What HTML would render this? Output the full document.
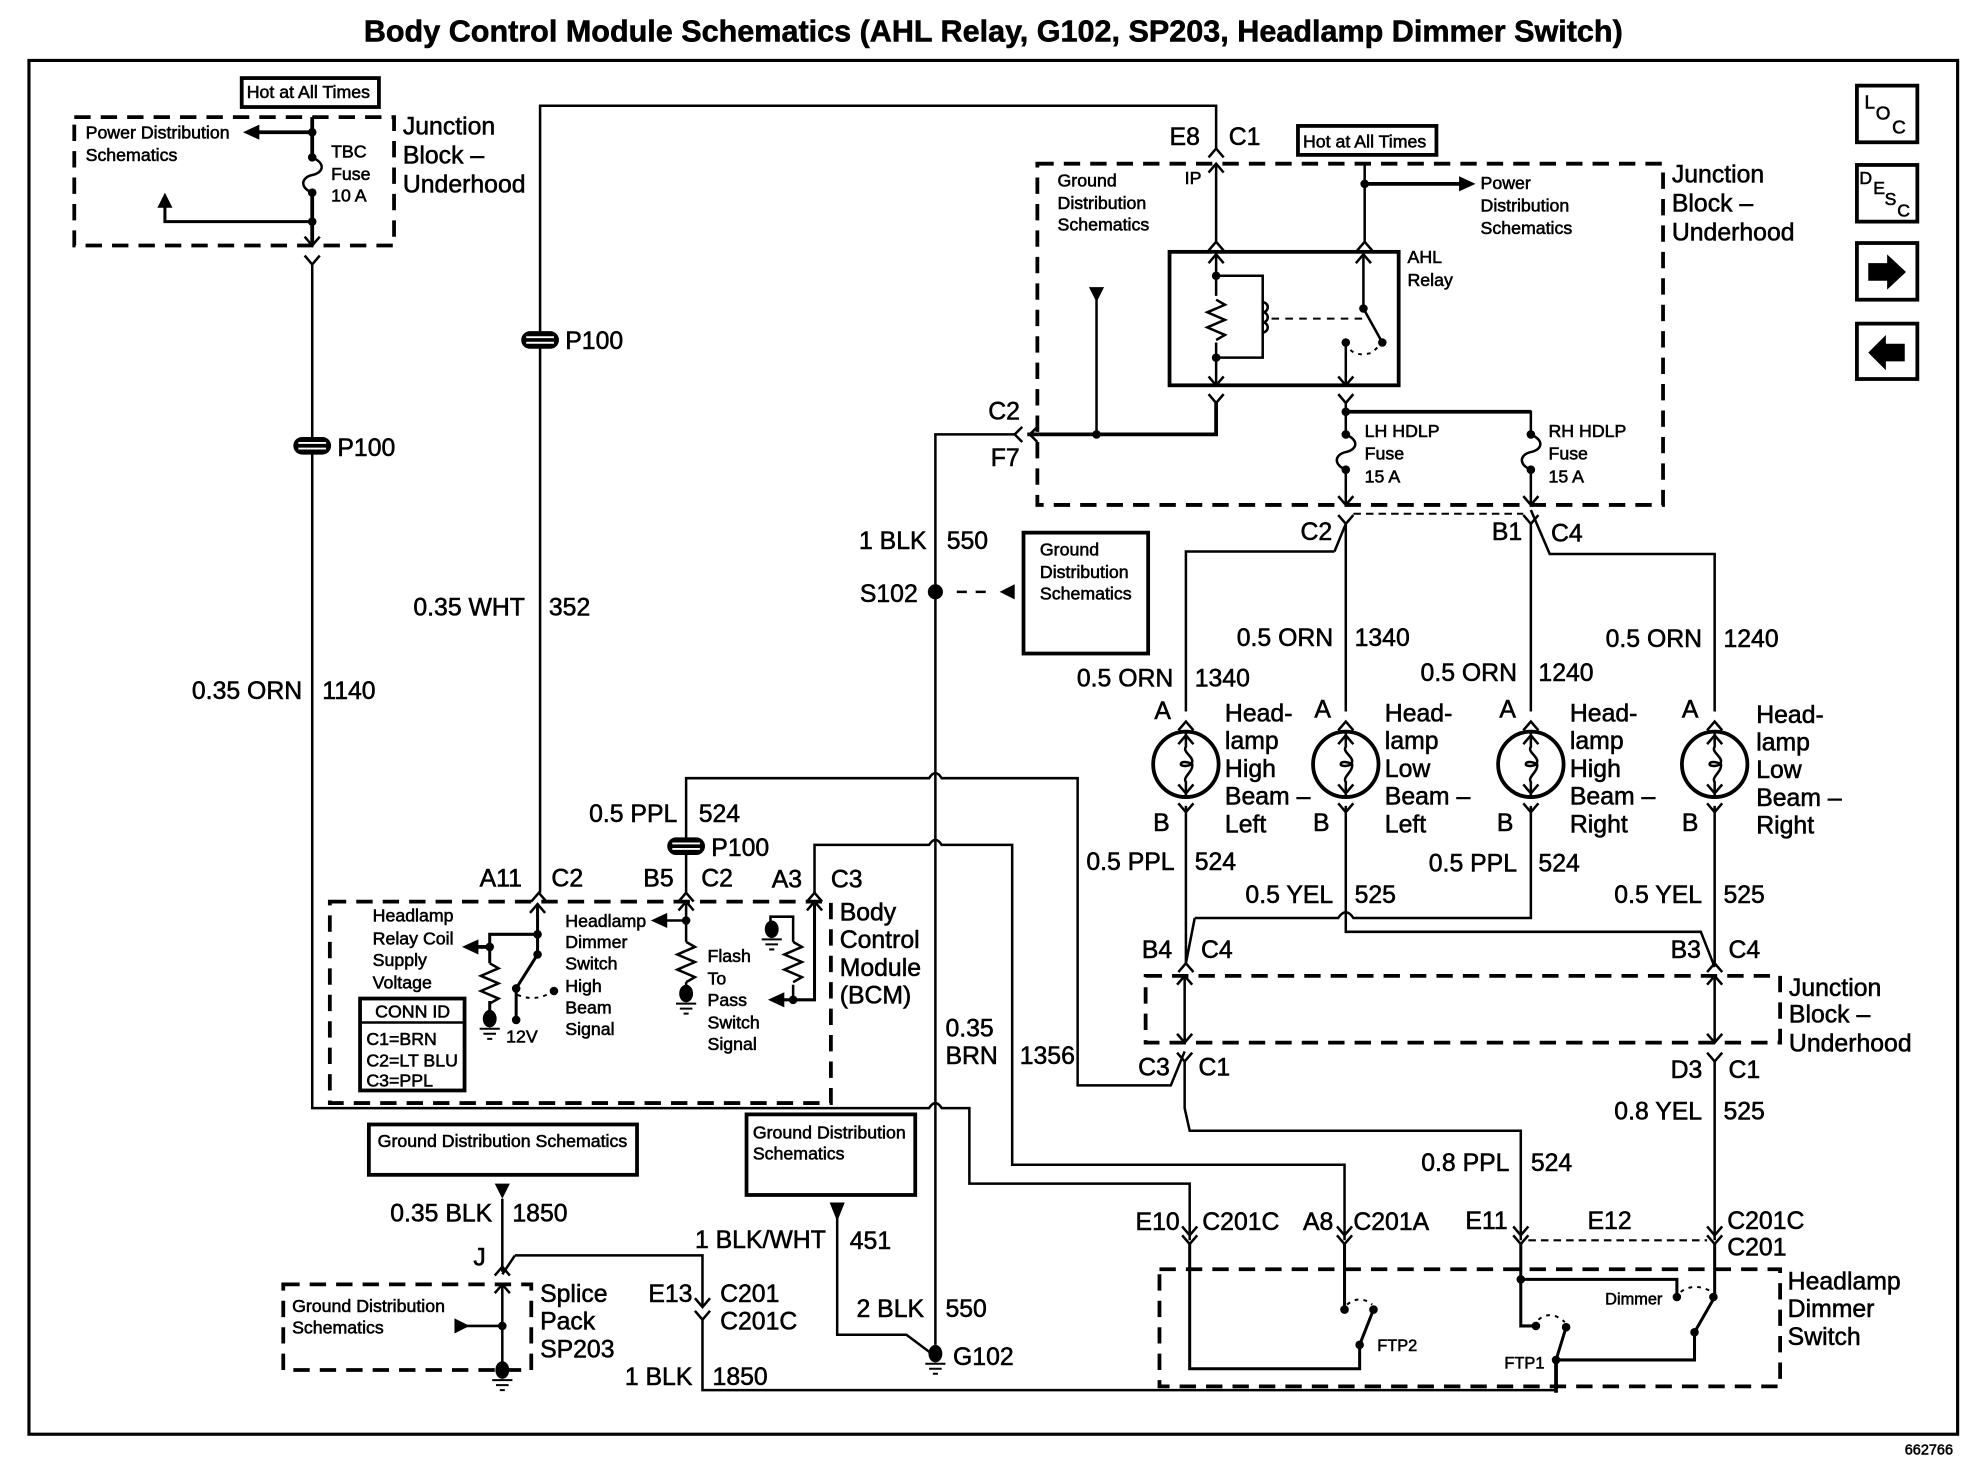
<!DOCTYPE html>
<html><head><meta charset="utf-8"><style>
html,body{margin:0;padding:0;background:#fff}
svg{display:block}
text{font-family:"Liberation Sans",sans-serif;fill:#000;stroke:#000;stroke-width:.45}
.l{font-size:19.7px}
.s{font-size:14.1px}
.e{text-anchor:end}
path,line,polyline,rect,ellipse,circle{fill:none;stroke:#000;stroke-width:2}
.h{stroke-width:3}
.dash{stroke-width:3;stroke-dasharray:13 8}
.dot{stroke-width:1.6;stroke-dasharray:3 4}
.f{fill:#000;stroke:none}
</style></head><body>
<svg xmlns="http://www.w3.org/2000/svg" width="1974" height="1472" viewBox="0 0 1568 1169" preserveAspectRatio="none">
<defs>
<path id="u" d="M-6 7L0 0L6 7"/>
<path id="v" d="M-6 -7L0 0L6 -7"/>
<circle id="d" r="3.4" class="f"/>
<g id="g"><ellipse cy="-3" rx="5.5" ry="7" class="f"/><path d="M-8 5H8M-5 9H5M-2 13H2" style="stroke-width:1.6"/></g>
<g id="sp"><rect x="-15" y="-7" width="30" height="14" rx="7" class="f"/><path d="M-11 -2.2H11M-11 2.2H11" style="stroke:#fff;stroke-width:1.5"/></g>
<path id="fu" d="M0 0C11 5 9 12 0 14C-9 16 -10 24 0 28"/>
<path id="rs" d="M0 0L7 4L-7 10L7 16L-7 22L7 28L0 32"/>
<g id="lamp"><circle r="26" style="stroke-width:3"/><path d="M0 -26V-14C-3 -10 6 -6 5 -2C5 2 -4 2 -4 0C-4 -3 2 -2 5 0C6 6 -3 10 0 14V26"/><use href="#u" y="-23"/><use href="#v" y="23"/></g>
</defs>
<rect width="1568" height="1169" style="fill:#fff;stroke:none"/>
<text x="289" y="33" font-size="24" font-weight="bold" textLength="1000" lengthAdjust="spacingAndGlyphs">Body Control Module Schematics (AHL Relay, G102, SP203, Headlamp Dimmer Switch)</text>
<rect x="23" y="48" width="1532" height="1091" style="stroke-width:2.5"/>
<text x="1513" y="1155" font-size="11.5">662766</text>

<!-- top-left junction -->
<rect x="192" y="62" width="109" height="23" class="h"/>
<text x="196" y="78" class="s">Hot at All Times</text>
<rect x="59" y="93" width="254" height="102" class="dash"/>
<text x="68" y="110" class="s">Power Distribution</text>
<text x="68" y="128" class="s">Schematics</text>
<path d="M248 93V125M248 153V195" class="h"/>
<use href="#fu" x="248" y="125"/>
<use href="#d" x="248" y="105"/><use href="#d" x="248" y="125"/><use href="#d" x="248" y="153"/><use href="#d" x="248" y="176"/>
<path d="M205 105H248" class="h"/><path d="M193 105L206 99V111Z" class="f"/>
<path d="M131 160V176H248" style="stroke-width:2.4"/><path d="M131 153L125 165H137Z" class="f"/>
<use href="#v" x="248" y="195"/><use href="#v" x="248" y="210"/>
<text x="263" y="125" class="s">TBC</text><text x="263" y="143" class="s">Fuse</text><text x="263" y="160" class="s">10 A</text>
<text x="320" y="107" class="l">Junction</text><text x="320" y="130" class="l">Block –</text><text x="320" y="153" class="l">Underhood</text>

<!-- main wire left -->
<path d="M248 210V880H738Q743 872 748 880H770V940H945V985"/>
<use href="#sp" x="248" y="354"/><text x="268" y="362" class="l">P100</text>
<text x="240" y="555" class="l e">0.35 ORN</text><text x="256" y="555" class="l">1140</text>

<path d="M429 709V84H966V118"/>
<use href="#sp" x="429" y="270"/><text x="449" y="277" class="l">P100</text>
<text x="417" y="489" class="l e">0.35 WHT</text><text x="436" y="489" class="l">352</text>

<!-- top right junction -->
<text x="929" y="115" class="l">E8</text><text x="976" y="115" class="l">C1</text>
<use href="#u" x="966" y="118"/>
<rect x="1031" y="100" width="110" height="23" class="h"/>
<text x="1035" y="117" class="s">Hot at All Times</text>
<rect x="824" y="130" width="497" height="271" class="dash"/>
<text x="840" y="148" class="s">Ground</text><text x="840" y="166" class="s">Distribution</text><text x="840" y="183" class="s">Schematics</text>
<text x="941" y="146" class="s">IP</text>
<use href="#u" x="966" y="130"/><path d="M966 130V192"/><use href="#u" x="966" y="192"/>
<path d="M1084 130V192" /><use href="#u" x="1084" y="192"/>
<use href="#d" x="1084" y="146"/><path d="M1084 146H1160" class="h"/><path d="M1172 146L1159 140V152Z" class="f"/>
<text x="1176" y="150" class="s">Power</text><text x="1176" y="168" class="s">Distribution</text><text x="1176" y="186" class="s">Schematics</text>
<rect x="929" y="200" width="182" height="106" class="h"/>
<text x="1118" y="209" class="s">AHL</text><text x="1118" y="227" class="s">Relay</text>
<path d="M966 202V235M966 272V306"/><use href="#rs" x="966" y="238"/>
<use href="#u" x="966" y="202"/><use href="#v" x="966" y="306"/>
<use href="#d" x="966" y="219"/><use href="#d" x="966" y="284"/>
<path d="M966 219H1003V284H966" /><path d="M1003 240a4 4 0 0 1 0 8a4 4 0 0 1 0 8a4 4 0 0 1 0 8" />
<path d="M1010 253H1083" class="dot" style="stroke-dasharray:6 5"/>
<path d="M1083 202V245L1098 272"/><use href="#u" x="1083" y="202"/>
<use href="#d" x="1083" y="245"/><use href="#d" x="1098" y="272"/><use href="#d" x="1069" y="272"/>
<path d="M1069 272Q1074 285 1090 280L1098 272" class="dot"/>
<path d="M1069 272V306"/><use href="#v" x="1069" y="306"/>
<use href="#v" x="966" y="320"/><use href="#v" x="1069" y="320"/>
<path d="M966 320V345H816" class="h"/>
<path d="M871 232V345"/><path d="M871 240L865 228H877Z" class="f"/><use href="#d" x="871" y="345"/>
<path d="M824 339L818 345L824 351M812 339L806 345L812 351"/>
<text x="785" y="333" class="l">C2</text><text x="787" y="370" class="l">F7</text>
<path d="M806 345H743V1068"/>
<path d="M1069 320V345M1069 373V401M1069 327H1216V345M1216 373V401" />
<path d="M1069 327H1216" class="h"/>
<use href="#d" x="1069" y="327"/><use href="#d" x="1069" y="345"/><use href="#d" x="1069" y="373"/><use href="#d" x="1216" y="345"/><use href="#d" x="1216" y="373"/>
<use href="#fu" x="1069" y="345"/><use href="#fu" x="1216" y="345"/>
<use href="#v" x="1069" y="401"/><use href="#v" x="1216" y="401"/><use href="#v" x="1069" y="416"/><use href="#v" x="1216" y="416"/>
<text x="1084" y="347" class="s">LH HDLP</text><text x="1084" y="365" class="s">Fuse</text><text x="1084" y="383" class="s">15 A</text>
<text x="1230" y="347" class="s">RH HDLP</text><text x="1230" y="365" class="s">Fuse</text><text x="1230" y="383" class="s">15 A</text>
<text x="1328" y="145" class="l">Junction</text><text x="1328" y="168" class="l">Block –</text><text x="1328" y="191" class="l">Underhood</text>
<path d="M1075 408H1210" class="dot" style="stroke-dasharray:6 4"/>

<!-- buttons -->
<rect x="1475" y="68" width="48" height="45" class="h"/>
<text x="1481" y="86" font-size="15">L</text><text x="1490" y="95" font-size="15">O</text><text x="1503" y="106" font-size="15">C</text>
<rect x="1475" y="131" width="48" height="45" class="h"/>
<text x="1477" y="146" font-size="14">D</text><text x="1488" y="154" font-size="14">E</text><text x="1497" y="163" font-size="14">S</text><text x="1507" y="172" font-size="14">C</text>
<rect x="1475" y="193" width="48" height="45" class="h"/><path d="M1484 209H1499V202L1514 216L1499 230V223H1484Z" class="f"/>
<rect x="1475" y="257" width="48" height="44" class="h"/><path d="M1513 273H1498V266L1484 280L1498 294V287H1513Z" class="f"/>

<!-- branches to lamps -->
<path d="M1069 416V565M1060 438H942V565M1069 416L1060 438"/>
<path d="M1216 416V565M1216 405L1231 440H1362V565"/>
<text x="1033" y="429" class="l">C2</text><text x="1185" y="429" class="l">B1</text><text x="1232" y="430" class="l">C4</text>
<text x="1059" y="513" class="l e">0.5 ORN</text><text x="1076" y="513" class="l">1340</text>
<text x="932" y="545" class="l e">0.5 ORN</text><text x="949" y="545" class="l">1340</text>
<text x="1205" y="541" class="l e">0.5 ORN</text><text x="1222" y="541" class="l">1240</text>
<text x="1352" y="514" class="l e">0.5 ORN</text><text x="1369" y="514" class="l">1240</text>

<use href="#lamp" x="942" y="607"/><use href="#lamp" x="1069" y="607"/><use href="#lamp" x="1216" y="607"/><use href="#lamp" x="1362" y="607"/>
<use href="#u" x="942" y="573"/><use href="#u" x="1069" y="573"/><use href="#u" x="1216" y="573"/><use href="#u" x="1362" y="573"/>
<use href="#v" x="942" y="645"/><use href="#v" x="1069" y="645"/><use href="#v" x="1216" y="645"/><use href="#v" x="1362" y="645"/>
<text x="917" y="571" class="l">A</text><text x="1044" y="570" class="l">A</text><text x="1191" y="570" class="l">A</text><text x="1336" y="570" class="l">A</text>
<text x="916" y="660" class="l">B</text><text x="1043" y="660" class="l">B</text><text x="1189" y="660" class="l">B</text><text x="1336" y="660" class="l">B</text>
<text x="973" y="573" class="l">Head-</text><text x="973" y="595" class="l">lamp</text><text x="973" y="617" class="l">High</text><text x="973" y="639" class="l">Beam –</text><text x="973" y="661" class="l">Left</text>
<text x="1100" y="573" class="l">Head-</text><text x="1100" y="595" class="l">lamp</text><text x="1100" y="617" class="l">Low</text><text x="1100" y="639" class="l">Beam –</text><text x="1100" y="661" class="l">Left</text>
<text x="1247" y="573" class="l">Head-</text><text x="1247" y="595" class="l">lamp</text><text x="1247" y="617" class="l">High</text><text x="1247" y="639" class="l">Beam –</text><text x="1247" y="661" class="l">Right</text>
<text x="1395" y="574" class="l">Head-</text><text x="1395" y="596" class="l">lamp</text><text x="1395" y="618" class="l">Low</text><text x="1395" y="640" class="l">Beam –</text><text x="1395" y="662" class="l">Right</text>

<path d="M942 640V765M949 729L942 765M949 729H1063Q1069 720 1075 729H1216V640"/>
<path d="M1069 640V740H1351L1362 768M1362 640V765"/>
<text x="933" y="691" class="l e">0.5 PPL</text><text x="949" y="691" class="l">524</text>
<text x="1059" y="717" class="l e">0.5 YEL</text><text x="1076" y="717" class="l">525</text>
<text x="1205" y="692" class="l e">0.5 PPL</text><text x="1222" y="692" class="l">524</text>
<text x="1352" y="717" class="l e">0.5 YEL</text><text x="1369" y="717" class="l">525</text>
<text x="907" y="761" class="l">B4</text><text x="954" y="761" class="l">C4</text><text x="1327" y="761" class="l">B3</text><text x="1373" y="761" class="l">C4</text>
<use href="#u" x="942" y="765"/><use href="#u" x="1362" y="765"/>
<rect x="910" y="775" width="504" height="53" class="dash"/>
<path d="M941 775V828M1362 775V828"/>
<use href="#u" x="941" y="775"/><use href="#v" x="941" y="828"/><use href="#u" x="1362" y="775"/><use href="#v" x="1362" y="828"/>
<use href="#v" x="941" y="843"/><use href="#v" x="1362" y="843"/>
<text x="1421" y="791" class="l">Junction</text><text x="1421" y="812" class="l">Block –</text><text x="1421" y="835" class="l">Underhood</text>
<text x="904" y="854" class="l">C3</text><text x="952" y="854" class="l">C1</text><text x="1327" y="856" class="l">D3</text><text x="1373" y="856" class="l">C1</text>
<path d="M941 843V880L945 898H1208V985M1362 843V985"/>
<text x="1199" y="930" class="l e">0.8 PPL</text><text x="1216" y="930" class="l">524</text>
<text x="1352" y="889" class="l e">0.8 YEL</text><text x="1369" y="889" class="l">525</text>

<!-- cross wires -->
<path d="M545 709V618H738Q743 610 748 618H856V862H930L941 835"/>
<path d="M647 709V671H738Q743 663 748 671H804V925H1068V985"/>
<use href="#sp" x="545" y="672"/><text x="565" y="680" class="l">P100</text>
<text x="538" y="653" class="l e">0.5 PPL</text><text x="555" y="653" class="l">524</text>
<text x="751" y="823" class="l">0.35</text><text x="751" y="845" class="l">BRN</text><text x="810" y="845" class="l">1356</text>
<text x="736" y="436" class="l e">1 BLK</text><text x="752" y="436" class="l">550</text>
<text x="683" y="478" class="l">S102</text>
<circle cx="743" cy="470" r="6" class="f"/>
<path d="M760 470H790" style="stroke-dasharray:8 7"/><path d="M794 470L806 464V476Z" class="f"/>
<rect x="813" y="423" width="99" height="96" class="h"/>
<text x="826" y="441" class="s">Ground</text><text x="826" y="459" class="s">Distribution</text><text x="826" y="476" class="s">Schematics</text>

<!-- BCM -->
<text x="381" y="704" class="l">A11</text><text x="438" y="704" class="l">C2</text><text x="511" y="704" class="l">B5</text><text x="557" y="704" class="l">C2</text><text x="613" y="705" class="l">A3</text><text x="660" y="705" class="l">C3</text>
<use href="#u" x="428" y="709"/><use href="#u" x="545" y="709"/><use href="#u" x="647" y="709"/>
<rect x="262" y="716" width="398" height="160" class="dash"/>
<path d="M427 718V758L410 785V810M427 742H389V765M389 795V806" style="stroke-width:2.4"/>
<use href="#u" x="427" y="718"/>
<use href="#d" x="427" y="742"/><use href="#d" x="427" y="758"/><use href="#d" x="410" y="785"/><use href="#d" x="410" y="810"/><use href="#d" x="389" y="752"/><use href="#d" x="440" y="787"/>
<path d="M367 752L380 746V758Z" class="f"/><path d="M378 752H389" class="h"/>
<use href="#rs" x="389" y="765"/><use href="#g" x="389" y="812"/>
<path d="M411 790Q425 796 438 788" class="dot"/>
<text x="402" y="828" class="s">12V</text>
<text x="296" y="732" class="s">Headlamp</text><text x="296" y="750" class="s">Relay Coil</text><text x="296" y="767" class="s">Supply</text><text x="296" y="785" class="s">Voltage</text>
<rect x="286" y="793" width="83" height="73" class="h"/><path d="M286 812H369"/>
<text x="298" y="808" class="s">CONN ID</text><text x="291" y="830" class="s">C1=BRN</text><text x="291" y="847" class="s">C2=LT BLU</text><text x="291" y="863" class="s">C3=PPL</text>
<text x="449" y="736" class="s">Headlamp</text><text x="449" y="753" class="s">Dimmer</text><text x="449" y="770" class="s">Switch</text><text x="449" y="788" class="s">High</text><text x="449" y="805" class="s">Beam</text><text x="449" y="822" class="s">Signal</text>
<path d="M545 716V748M545 780V786M528 731H545"/><use href="#u" x="545" y="716"/><use href="#d" x="545" y="731"/>
<path d="M517 731L530 725V737Z" class="f"/>
<use href="#rs" x="545" y="748"/><use href="#g" x="545" y="792"/>
<text x="562" y="764" class="s">Flash</text><text x="562" y="782" class="s">To</text><text x="562" y="799" class="s">Pass</text><text x="562" y="817" class="s">Switch</text><text x="562" y="834" class="s">Signal</text>
<path d="M647 716V794H620" style="stroke-width:2.4"/><use href="#u" x="647" y="716"/>
<path d="M610 794L623 788V800Z" class="f"/><use href="#d" x="630" y="794"/>
<path d="M630 794V782M630 748V728H612V735"/><use href="#rs" x="630" y="748"/><use href="#g" x="613" y="741"/>
<text x="667" y="731" class="l">Body</text><text x="667" y="753" class="l">Control</text><text x="667" y="775" class="l">Module</text><text x="667" y="797" class="l">(BCM)</text>

<!-- bottom left -->
<rect x="293" y="893" width="213" height="40" class="h"/>
<text x="300" y="911" class="s">Ground Distribution Schematics</text>
<rect x="593" y="885" width="134" height="64" class="h"/>
<text x="598" y="904" class="s">Ground Distribution</text><text x="598" y="921" class="s">Schematics</text>
<path d="M399 952V1010M409 997L399 1012"/><path d="M399 952L393 940H405Z" class="f"/>
<text x="391" y="970" class="l e">0.35 BLK</text><text x="407" y="970" class="l">1850</text>
<text x="376" y="1005" class="l">J</text>
<use href="#u" x="399" y="1006"/>
<path d="M409 997H558V1038M558 1048V1104H1236"/><use href="#v" x="558" y="1038"/><use href="#v" x="558" y="1048"/>
<rect x="225" y="1020" width="197" height="68" class="dash"/>
<text x="232" y="1042" class="s">Ground Distribution</text><text x="232" y="1059" class="s">Schematics</text>
<path d="M399 1020V1085M370 1053H399"/><use href="#u" x="399" y="1020"/><path d="M361 1047L373 1053L361 1059Z" class="f"/><use href="#d" x="399" y="1053"/>
<use href="#g" x="399" y="1091"/>
<text x="429" y="1034" class="l">Splice</text><text x="429" y="1056" class="l">Pack</text><text x="429" y="1078" class="l">SP203</text>
<text x="515" y="1034" class="l">E13</text><text x="572" y="1034" class="l">C201</text><text x="572" y="1056" class="l">C201C</text>
<text x="550" y="1100" class="l e">1 BLK</text><text x="566" y="1100" class="l">1850</text>
<text x="656" y="991" class="l e">1 BLK/WHT</text><text x="675" y="992" class="l">451</text>
<text x="734" y="1046" class="l e">2 BLK</text><text x="751" y="1046" class="l">550</text>
<path d="M665 960V1060H720L740 1075"/><path d="M665 970L659 955H671Z" class="f"/>
<use href="#g" x="743" y="1078"/>
<text x="757" y="1084" class="l">G102</text>

<!-- dimmer switch -->
<text x="902" y="977" class="l">E10</text><text x="955" y="977" class="l">C201C</text><text x="1035" y="977" class="l">A8</text><text x="1075" y="977" class="l">C201A</text><text x="1164" y="976" class="l">E11</text><text x="1261" y="976" class="l">E12</text><text x="1372" y="976" class="l">C201C</text><text x="1372" y="997" class="l">C201</text>
<g><use href="#v" x="945" y="981"/><use href="#v" x="945" y="988"/><use href="#v" x="1068" y="981"/><use href="#v" x="1068" y="988"/><use href="#v" x="1208" y="981"/><use href="#v" x="1208" y="988"/><use href="#v" x="1362" y="981"/><use href="#v" x="1362" y="988"/></g>
<path d="M1214 985H1356" class="dot" style="stroke-dasharray:6 4"/>
<rect x="921" y="1008" width="493" height="93" class="dash"/>
<path d="M945 988V1087H1080V1068L1091 1040M1068 988V1040" style="stroke-width:2.4"/>
<use href="#d" x="1068" y="1040"/><use href="#d" x="1091" y="1040"/><use href="#d" x="1080" y="1068"/>
<path d="M1070 1036Q1080 1028 1090 1036" class="dot"/>
<text x="1094" y="1073" font-size="13">FTP2</text>
<path d="M1208 988V1053H1220M1208 1016H1332V1030M1362 988V1030L1346 1058V1080H1236L1244 1054M1236 1080V1106" style="stroke-width:2.4"/>
<path d="M1236 1080V1106" class="h"/>
<use href="#d" x="1208" y="1016"/><use href="#d" x="1220" y="1053"/><use href="#d" x="1244" y="1054"/><use href="#d" x="1236" y="1080"/><use href="#d" x="1332" y="1030"/><use href="#d" x="1361" y="1030"/><use href="#d" x="1346" y="1058"/>
<path d="M1222 1048Q1232 1040 1243 1050M1335 1026Q1346 1018 1360 1026" class="dot"/>
<text x="1275" y="1036" font-size="13">Dimmer</text><text x="1195" y="1087" font-size="13">FTP1</text>
<text x="1420" y="1024" class="l">Headlamp</text><text x="1420" y="1046" class="l">Dimmer</text><text x="1420" y="1068" class="l">Switch</text>
</svg>
</body></html>
